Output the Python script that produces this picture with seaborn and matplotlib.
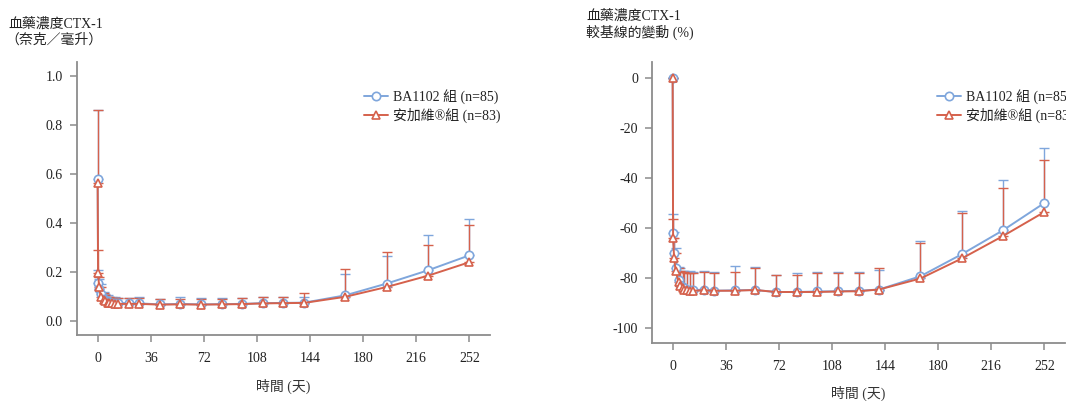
import numpy as np
import pandas as pd
import matplotlib
matplotlib.use("Agg")
import matplotlib.pyplot as plt
import seaborn as sns

# ---------------- data ----------------
days = [0, 0.3, 1, 2, 4, 5, 7, 8, 10, 12, 14, 21, 28, 42, 56, 70, 84, 98,
        112, 126, 140, 168, 196, 224, 252]

# Left panel: serum CTX-1 (ng/mL), mean and mean+SD
conc_ba_mean = [0.578, 0.155, 0.130, 0.110, 0.090, 0.085, 0.080, 0.078, 0.075,
                0.074, 0.073, 0.073, 0.072, 0.068, 0.070, 0.068, 0.069, 0.070,
                0.073, 0.074, 0.075, 0.105, 0.153, 0.207, 0.268]
conc_ba_upper = [0.862, 0.207, 0.170, 0.150, 0.120, 0.110, 0.105, 0.100, 0.098,
                 0.097, 0.096, 0.095, 0.097, 0.090, 0.098, 0.092, 0.092, 0.094,
                 0.098, 0.098, 0.100, 0.193, 0.264, 0.351, 0.418]
conc_ref_mean = [0.564, 0.196, 0.140, 0.100, 0.085, 0.080, 0.075, 0.073, 0.072,
                 0.071, 0.070, 0.070, 0.070, 0.067, 0.068, 0.067, 0.068, 0.069,
                 0.072, 0.073, 0.074, 0.099, 0.139, 0.185, 0.240]
conc_ref_upper = [0.862, 0.290, 0.180, 0.140, 0.115, 0.105, 0.100, 0.098, 0.095,
                  0.095, 0.094, 0.093, 0.095, 0.088, 0.090, 0.088, 0.088, 0.092,
                  0.099, 0.099, 0.115, 0.212, 0.281, 0.311, 0.392]

# Right panel: % change from baseline, mean and mean+SD
pct_ba_mean = [0.0, -62.0, -70.0, -76.0, -80.5, -82.5, -83.5, -84.0, -84.5,
               -84.5, -84.8, -84.5, -85.0, -84.8, -84.7, -85.5, -85.5, -85.3,
               -85.2, -85.0, -84.5, -79.2, -70.4, -60.8, -49.9]
pct_ba_upper = [0.0, -54.5, -61.5, -68.0, -75.5, -76.0, -77.0, -77.0, -77.5,
                -77.0, -77.5, -77.0, -77.5, -75.0, -75.5, -78.5, -78.0, -77.5,
                -77.5, -77.5, -76.5, -65.2, -53.0, -40.5, -27.7]
pct_ref_mean = [0.0, -64.0, -72.0, -77.0, -81.5, -83.0, -84.0, -84.5, -84.5,
                -85.0, -85.0, -84.8, -85.0, -85.0, -84.7, -85.5, -85.5, -85.5,
                -85.3, -85.2, -84.5, -80.1, -72.1, -63.1, -53.5]
pct_ref_upper = [0.0, -56.5, -64.0, -70.0, -76.0, -77.0, -77.5, -77.5, -78.0,
                 -78.0, -78.0, -77.5, -78.0, -77.5, -75.8, -78.8, -78.5, -77.8,
                 -78.0, -77.8, -76.0, -66.0, -53.8, -43.8, -32.5]

group_labels = ["BA1102 組 (n=85)", "安加維®組 (n=83)"]
x_ticks = [0, 36, 72, 108, 144, 180, 216, 252]
left_yticks = [0.0, 0.2, 0.4, 0.6, 0.8, 1.0]
right_yticks = [0, -20, -40, -60, -80, -100]

# ---------------- style ----------------
sns.set_theme(style="ticks")
plt.rcParams["font.family"] = ["Liberation Serif", "Noto Sans CJK TC", "DejaVu Sans"]
plt.rcParams["axes.unicode_minus"] = False

BLUE = "#7fa6dc"
RED = "#d5614c"
GREY = "#8c8c8c"

W, H = 1066, 401
fig = plt.figure(figsize=(W / 100, H / 100), dpi=100)

def px_axes(x0, x1, ytop, ybot):
    return fig.add_axes([x0 / W, 1 - ybot / H, (x1 - x0) / W, (ybot - ytop) / H])

ax1 = px_axes(77, 490, 62, 335)
ax2 = px_axes(652, 1065, 62, 343)


def draw_panel(ax, bm, bu, rm, ru, ylim, yticks, yfmt, legend_xy, lpad):
    series = [
        (bm, bu, BLUE, "o", group_labels[0]),
        (rm, ru, RED, "^", group_labels[1]),
    ]
    for mean, upper, col, mk, lab in series:
        err = np.array(upper) - np.array(mean)
        ax.errorbar(days, mean, yerr=[np.zeros_like(err), err], fmt="none",
                    ecolor=col, elinewidth=1.0, capsize=3.6, capthick=1.0,
                    zorder=2)
    for mean, upper, col, mk, lab in series:
        df = pd.DataFrame({"day": days, "val": mean})
        sns.lineplot(data=df, x="day", y="val", ax=ax, color=col, marker=mk,
                     markersize=6, markerfacecolor="white",
                     markeredgecolor=col, markeredgewidth=1.2,
                     linewidth=1.4, label=lab, zorder=3)
    ax.set_xlim(-14, 266)
    ax.set_ylim(*ylim)
    ax.set_xticks(x_ticks)
    ax.set_yticks(yticks)
    ax.set_yticklabels([yfmt(v) for v in yticks])
    ax.set_xlabel("時間 (天)", fontsize=10, labelpad=lpad, color="#333333")
    ax.set_ylabel("")
    for s in ["top", "right"]:
        ax.spines[s].set_visible(False)
    for s in ["left", "bottom"]:
        ax.spines[s].set_color(GREY)
        ax.spines[s].set_linewidth(1.3)
    ax.tick_params(axis="both", colors=GREY, length=5, width=1.1,
                   labelsize=10, labelcolor="#222222")
    ax.tick_params(axis="x", pad=7)
    ax.tick_params(axis="y", pad=5)
    h, l = ax.get_legend_handles_labels()
    ax.legend(h, l, loc="upper left",
              bbox_to_anchor=(legend_xy[0] / W, 1 - legend_xy[1] / H),
              bbox_transform=fig.transFigure, frameon=False, fontsize=10,
              handlelength=1.7, handletextpad=0.4, labelspacing=0.25,
              borderpad=0, borderaxespad=0, labelcolor="#222222")


draw_panel(ax1, conc_ba_mean, conc_ba_upper, conc_ref_mean, conc_ref_upper,
           (-0.057, 1.057), left_yticks, lambda v: f"{v:.1f}", (364, 89), 10)
draw_panel(ax2, pct_ba_mean, pct_ba_upper, pct_ref_mean, pct_ref_upper,
           (-105.9, 6.5), right_yticks, lambda v: f"{v:d}", (937, 89), 9.5)

# panel titles (y axis captions)
fig.text(8 / W, 1 - 24 / H, "血藥濃度CTX-1", fontsize=10, va="center",
         ha="left", color="#222222")
fig.text(5 / W, 1 - 40 / H, "（奈克／毫升）", fontsize=10, va="center",
         ha="left", color="#222222")
fig.text(586 / W, 1 - 16 / H, "血藥濃度CTX-1", fontsize=10, va="center",
         ha="left", color="#222222")
fig.text(586 / W, 1 - 32 / H, "較基線的變動 (%)", fontsize=10, va="center",
         ha="left", color="#222222")

fig.savefig("out.png", dpi=100)
